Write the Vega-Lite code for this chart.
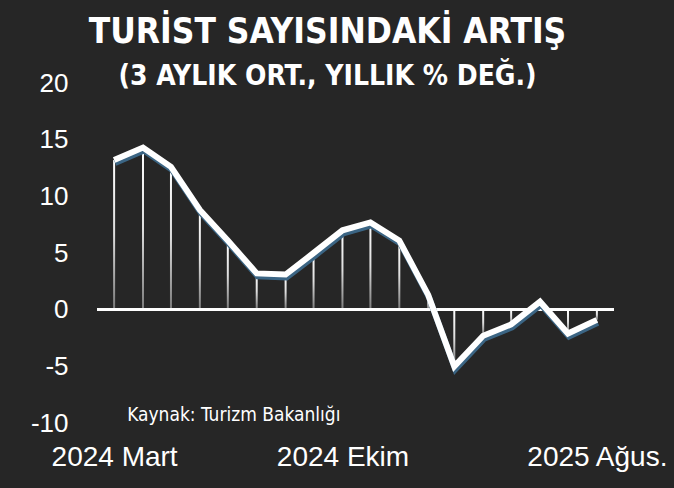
{
  "$schema": "https://vega.github.io/schema/vega-lite/v6.json",
  "autosize": "none",
  "width": 517,
  "height": 340,
  "padding": {"left": 97, "top": 83, "right": 60, "bottom": 65},
  "background": "#262626",
  "title": {
    "text": "TURİST SAYISINDAKİ ARTIŞ",
    "subtitle": "(3 AYLIK ORT., YILLIK % DEĞ.)",
    "anchor": "middle",
    "frame": "group",
    "dx": -28,
    "offset": -21,
    "font": "DejaVu Sans Condensed, sans-serif",
    "fontSize": 35,
    "fontWeight": "bold",
    "color": "#ffffff",
    "subtitleFont": "DejaVu Sans Condensed, sans-serif",
    "subtitleFontSize": 28,
    "subtitleFontWeight": "bold",
    "subtitleColor": "#ffffff",
    "subtitlePadding": 13
  },
  "data": {
    "values": [
      {"ay": "2024-03-01T00:00:00", "artis": 13.2},
      {"ay": "2024-04-01T00:00:00", "artis": 14.3},
      {"ay": "2024-05-01T00:00:00", "artis": 12.6},
      {"ay": "2024-06-01T00:00:00", "artis": 8.8},
      {"ay": "2024-07-01T00:00:00", "artis": 6.1},
      {"ay": "2024-08-01T00:00:00", "artis": 3.2},
      {"ay": "2024-09-01T00:00:00", "artis": 3.1},
      {"ay": "2024-10-01T00:00:00", "artis": 5.0},
      {"ay": "2024-11-01T00:00:00", "artis": 7.0},
      {"ay": "2024-12-01T00:00:00", "artis": 7.7},
      {"ay": "2025-01-01T00:00:00", "artis": 6.1},
      {"ay": "2025-02-01T00:00:00", "artis": 1.3},
      {"ay": "2025-03-01T00:00:00", "artis": -5.0},
      {"ay": "2025-04-01T00:00:00", "artis": -2.3},
      {"ay": "2025-05-01T00:00:00", "artis": -1.3},
      {"ay": "2025-06-01T00:00:00", "artis": 0.7},
      {"ay": "2025-07-01T00:00:00", "artis": -2.1},
      {"ay": "2025-08-01T00:00:00", "artis": -0.9}
    ]
  },
  "encoding": {
    "x": {
      "field": "ay",
      "type": "temporal",
      "title": null,
      "scale": {"domain": ["2024-02-17T00:00:00", "2025-08-14T00:00:00"]},
      "axis": {
        "values": [
          {"year": 2024, "month": 3, "date": 1},
          {"year": 2024, "month": 11, "date": 1},
          {"year": 2025, "month": 8, "date": 1}
        ],
        "labelExpr": "timeFormat(datum.value, '%Y-%m') == '2024-03' ? '2024 Mart' : timeFormat(datum.value, '%Y-%m') == '2024-11' ? '2024 Ekim' : '2025 Ağus.'",
        "labelFont": "Liberation Sans, sans-serif",
        "labelFontSize": 28,
        "labelColor": "#ffffff",
        "labelPadding": 20,
        "labelFlush": false,
        "labelOverlap": false,
        "domain": false,
        "ticks": false,
        "grid": false
      }
    },
    "y": {
      "field": "artis",
      "type": "quantitative",
      "title": null,
      "scale": {"domain": [-10, 20], "nice": false, "zero": false},
      "axis": {
        "values": [-10, -5, 0, 5, 10, 15, 20],
        "labelExpr": "'' + datum.value",
        "labelFont": "Liberation Sans, sans-serif",
        "labelFontSize": 26,
        "labelColor": "#ffffff",
        "labelPadding": 29,
        "domain": false,
        "ticks": false,
        "grid": false
      }
    }
  },
  "layer": [
    {
      "mark": {
        "type": "bar",
        "width": 2,
        "color": {
          "gradient": "linear",
          "x1": 0, "y1": 0, "x2": 0, "y2": 1,
          "stops": [
            {"offset": 0, "color": "#ffffff"},
            {"offset": 0.5, "color": "#dddddd"},
            {"offset": 1, "color": "#7a7a7a"}
          ]
        }
      },
      "encoding": {"y2": {"datum": 0}}
    },
    {
      "mark": {"type": "rule", "color": "#ffffff", "strokeWidth": 2},
      "encoding": {"x": null, "y": {"datum": 0}}
    },
    {
      "mark": {"type": "line", "color": "#3b6584", "strokeWidth": 6, "xOffset": 1, "yOffset": 3}
    },
    {
      "mark": {"type": "line", "color": "#ffffff", "strokeWidth": 6}
    },
    {
      "data": {"values": [{"ay": "2024-03-15T00:00:00", "artis": -9.3, "metin": "Kaynak: Turizm Bakanlığı"}]},
      "mark": {
        "type": "text",
        "align": "left",
        "baseline": "middle",
        "font": "DejaVu Sans Condensed, sans-serif",
        "fontSize": 19,
        "color": "#ffffff"
      },
      "encoding": {"text": {"field": "metin"}}
    }
  ],
  "config": {
    "view": {"stroke": null}
  }
}
